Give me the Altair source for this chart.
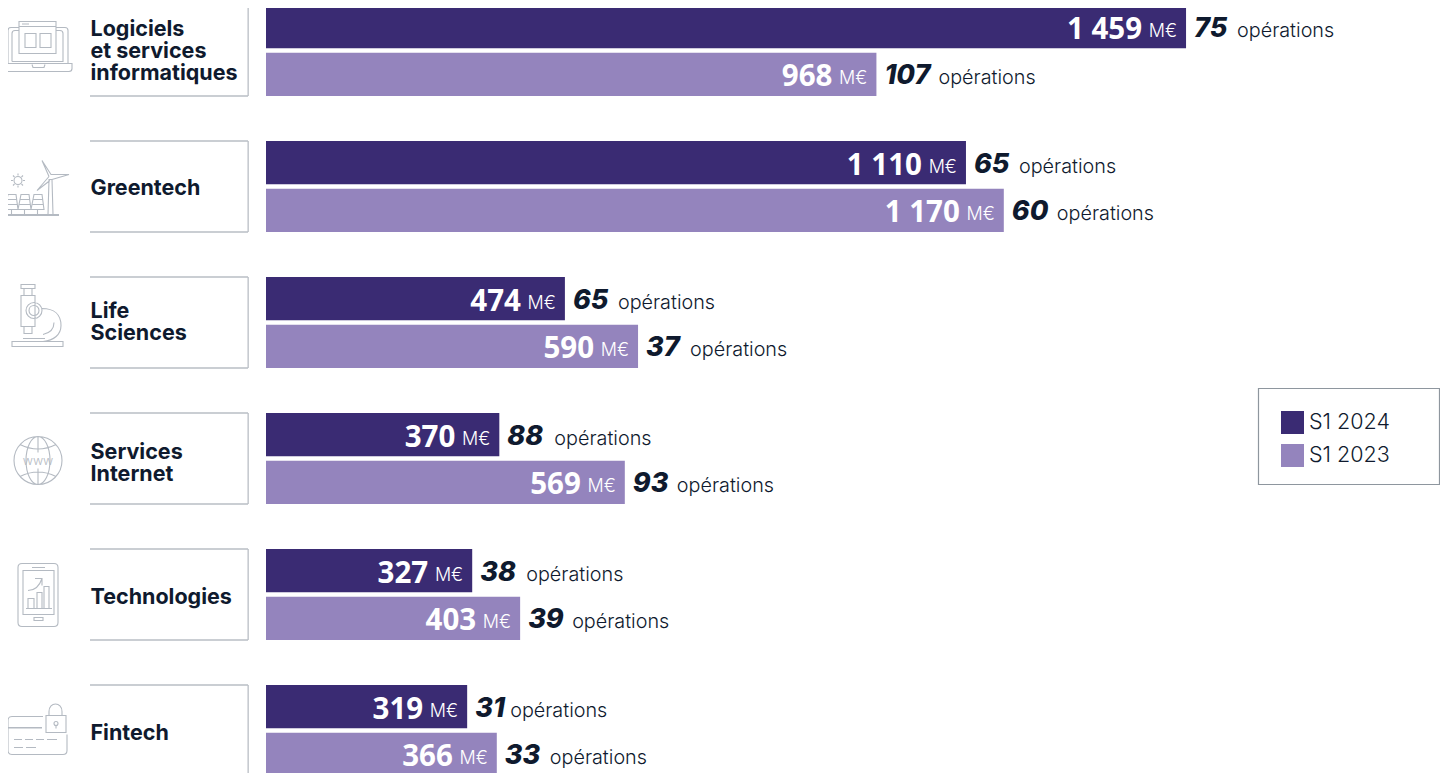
import re
import altair as alt
import pandas as pd

categories = ["Logiciels\net services\ninformatiques", "Greentech", "Life\nSciences",
              "Services\nInternet", "Technologies", "Fintech"]
name_shift = [-20, 3, -10, -6, 3, 3]
series = ["S1 2024", "S1 2023"]
montants_2024 = [1459, 1110, 474, 370, 327, 319]
montants_2023 = [968, 1170, 590, 569, 403, 366]
operations_2024 = [75, 65, 65, 88, 38, 31]
operations_2023 = [107, 60, 37, 93, 39, 33]
colors = ["#3A2B73", "#9484BD"]
INK = "#0F1A2E"
LINE = "#B9BEC5"
ICON = "#B4BAC2"
CENTERS = [50, 186, 322, 458, 594, 730]
ICON_X = 35


def circle(cx, cy, rx, ry=None):
    ry = rx if ry is None else ry
    k = 0.5523
    return (f"M{cx+rx} {cy} C{cx+rx} {cy+k*ry} {cx+k*rx} {cy+ry} {cx} {cy+ry} "
            f"C{cx-k*rx} {cy+ry} {cx-rx} {cy+k*ry} {cx-rx} {cy} "
            f"C{cx-rx} {cy-k*ry} {cx-k*rx} {cy-ry} {cx} {cy-ry} "
            f"C{cx+k*rx} {cy-ry} {cx+rx} {cy-k*ry} {cx+rx} {cy} Z ")


def rel(path, cy):
    """Page-pixel path to symbol-local coordinates (size 4 = scale 1)."""
    i = [0]

    def f(m):
        v = float(m.group(0))
        v = v - ICON_X if i[0] % 2 == 0 else v - cy
        i[0] += 1
        return f"{v:.1f}"

    return re.sub(r"-?\d+(?:\.\d+)?", f, path)


rays = " ".join(f"M{a} {b} L{c} {d}" for a, b, c, d in [
    (18, 173, 18, 175), (18, 185, 18, 187), (11, 180, 13, 180), (23, 180, 25, 180),
    (13, 175, 14.5, 176.5), (21.5, 183.5, 23, 185), (13, 185, 14.5, 183.5), (21.5, 176.5, 23, 175)])
panels = " ".join(
    f"M{x+3} 194 L{x+11} 194 L{x+13} 209 L{x} 209 Z M{x+2.3} 199 L{x+11.7} 199 "
    f"M{x+1.6} 204 L{x+12.4} 204 M{x+6.5} 209 L{x+6.5} 214"
    for x in (5, 18, 31))
icons = [
    "M8 63 L8 30 Q8 27 11 27 L19 27 M56 27 L65 27 Q68 27 68 30 L68 63 "
    "M12 61 L12 33 Q12 30 15 30 L19 30 M56 30 L60 30 Q63 30 63 33 L63 61 L12 61 "
    "M3 63 L72 63 L72 68 Q72 71 69 71 L6 71 Q3 71 3 68 Z M32 64 L33 67 L44 67 L45 64 "
    "M19 21 L56 21 L56 53 L19 53 Z M19 26 L56 26 M22 23.5 L29 23.5 "
    "M25 33 L36 33 L36 47 L25 47 Z M40 33 L51 33 L51 47 L40 47 Z",
    "M49 179 L52 179 L53 214 L48 214 Z M4 214 L59 214 M4 215 L59 215 "
    "M49 176 L42 160 L51 174 L69 174 L52 179 M49 176 L37 190 L50 180 "
    + circle(18, 180, 4) + rays + " " + panels,
    "M21 284 L35 284 L35 288 L21 288 Z M24 288 L24 295 M32 288 L32 295 "
    "M21 295 L35 295 L35 326 L21 326 Z M24 326 L24 333 L32 333 L32 326 "
    + circle(34, 310, 8) + circle(34, 310, 5)
    + "M42 308 C54 308 61 314 61 325 C61 334 54 340 43 341 M23 338 L45 338 M43 334 C52 332 54 326 54 322 "
    "M12 341 L63 341 L63 346 L12 346 Z",
    circle(38, 460, 24) + circle(38, 460, 12, 24)
    + "M38 436 L38 452 M38 468 L38 484 M20 444 Q38 453 56 444 M20 476 Q38 467 56 476",
    "M22 563 L54 563 Q58 563 58 567 L58 622 Q58 626 54 626 L22 626 Q18 626 18 622 L18 567 Q18 563 22 563 Z "
    "M23 570 L54 570 L54 614 L23 614 Z M32 567 L45 567 M34 617 L43 617 L43 620 L34 620 Z "
    "M26 608 L52 608 M28 608 L28 598 L34 598 L34 608 M37 608 L37 592 L42 592 L42 608 "
    "M44 608 L44 586 L49 586 L49 608 M28 590 Q38 590 42 578 M35 578 L42 578 L42 585",
    "M43 716 L12 716 Q8 716 8 720 L8 750 Q8 754 12 754 L63 754 Q67 754 67 750 L67 734 "
    "M8 727 L42 727 M8 727.5 L42 727.5 M14 739 L22 739 M25 739 L33 739 M36 739 L44 739 M47 739 L57 739 "
    "M14 747 L23 747 M26 747 L36 747 M46 715 L66 715 L66 732 L46 732 Z "
    "M49 715 L49 711 C49 701 62 701 62 711 L62 715 M56 725 L56 728 " + circle(56, 723, 2),
]
icon_paths = [rel(p, c) for p, c in zip(icons, CENTERS)]

# rendered advance of each digit of the count, to set the word after it
DIGIT = {"0": 16, "1": 7, "3": 17, "5": 16, "6": 18, "7": 16, "8": 18, "9": 16}


def ops_offset(n):
    s = str(n)
    return 19 + sum(DIGIT[d] for d in s) + (len(s) - 2) * 4


rows = []
for i, c in enumerate(categories):
    for s, m, o in ((series[0], montants_2024[i], operations_2024[i]),
                    (series[1], montants_2023[i], operations_2023[i])):
        rows.append({"cat": c, "serie": s, "montant": m, "ops": o,
                     "lbl": f"{m:,}".replace(",", " "), "unit": "M€",
                     "mot": "opérations", "off": ops_offset(o)})
df = pd.DataFrame(rows)
cats = pd.DataFrame({"cat": categories, "icon": icon_paths, "shift": name_shift})

W, H = 1432, 765
yscale = alt.Scale(domain=categories, range=[-3, 768], paddingInner=0.331, paddingOuter=0)
xscale = alt.Scale(domain=[0, 2000], range=[258, 1519.2])
Y = alt.Y("cat:N", scale=yscale, axis=None, sort=categories)
YO = alt.YOffset("serie:N", scale=alt.Scale(domain=series, paddingInner=0.09, paddingOuter=0), sort=series)
X = alt.X("montant:Q", scale=xscale, axis=None)

base = alt.Chart(df)
bars = base.mark_bar(clip=False).encode(
    x=X, y=Y, yOffset=YO,
    color=alt.Color("serie:N", sort=series, scale=alt.Scale(domain=series, range=colors),
                    legend=alt.Legend(title=None, orient="none", legendX=1273, legendY=403, padding=0,
                                      symbolType="square", symbolSize=529, symbolStrokeWidth=0,
                                      symbolOpacity=1, rowPadding=10, labelOffset=5, labelFont="Inter",
                                      labelFontSize=21.5, labelFontWeight=300, labelColor=INK)))
val = base.mark_text(align="right", baseline="middle", font="Open Sans", fontWeight=700, fontSize=29.5,
                     color="white", dx=-44, dy=3).encode(x=X, y=Y, yOffset=YO, text="lbl:N")
unit = base.mark_text(align="right", baseline="middle", font="Inter", fontWeight=300, fontSize=18,
                      color="white", dx=-9, dy=5).encode(x=X, y=Y, yOffset=YO, text="unit:N")
cnt = base.mark_text(align="left", baseline="middle", font="Inter", fontWeight=800, fontStyle="italic",
                     fontSize=27, color=INK, dx=8, dy=2).encode(x=X, y=Y, yOffset=YO, text="ops:N")
mots = [
    base.transform_filter(alt.datum.off == int(o)).mark_text(
        align="left", baseline="middle", font="Inter", fontWeight=300, fontSize=19.8,
        color=INK, dx=int(o), dy=4).encode(x=X, y=Y, yOffset=YO, text="mot:N")
    for o in sorted(df["off"].unique())
]

cbase = alt.Chart(cats)
names = [
    cbase.transform_filter(alt.datum.cat == c).mark_text(
        align="left", baseline="middle", font="Inter", fontWeight=700, fontSize=21.5,
        lineHeight=22, lineBreak="\n", color=INK, dy=d).encode(x=alt.value(82.5), y=Y, text="cat:N")
    for c, d in zip(categories, name_shift)
]
top = cbase.mark_rule(color=LINE, strokeWidth=1.5).encode(
    x=alt.value(82), x2=alt.value(240), y=alt.Y("cat:N", scale=yscale, axis=None, sort=categories, bandPosition=0))
bot = cbase.mark_rule(color=LINE, strokeWidth=1.5).encode(
    x=alt.value(82), x2=alt.value(240), y=alt.Y("cat:N", scale=yscale, axis=None, sort=categories, bandPosition=1))
side = cbase.mark_rect(color=LINE).encode(x=alt.value(239.5), x2=alt.value(240.8), y=Y)
pics = cbase.mark_point(filled=False, size=4, color=ICON, opacity=1, strokeWidth=1.1).encode(
    x=alt.value(ICON_X - 8), y=Y, shape=alt.Shape("icon:N", scale=None, legend=None))
www = alt.Chart(pd.DataFrame({"cat": [categories[3]], "t": ["www"]})).mark_text(
    font="Inter", fontWeight=300, fontSize=12.5, color=ICON, align="center", baseline="middle", dy=2).encode(
    x=alt.value(30), y=alt.Y("cat:N", scale=yscale, axis=None, sort=categories), text="t:N")
box = alt.Chart(pd.DataFrame({"a": [0]})).mark_rect(fill="white", stroke="#8E969E", strokeWidth=1.2).encode(
    x=alt.value(1250.5), x2=alt.value(1431.5), y=alt.value(380.5), y2=alt.value(476.5))

chart = alt.layer(box, bars, val, unit, cnt, *mots, top, bot, side, *names, pics, www).properties(
    width=W, height=H, padding=0, autosize=alt.AutoSizeParams(type="none")).configure_view(stroke=None)

chart.save("out.html", embed_options={"renderer": "svg", "actions": False})
